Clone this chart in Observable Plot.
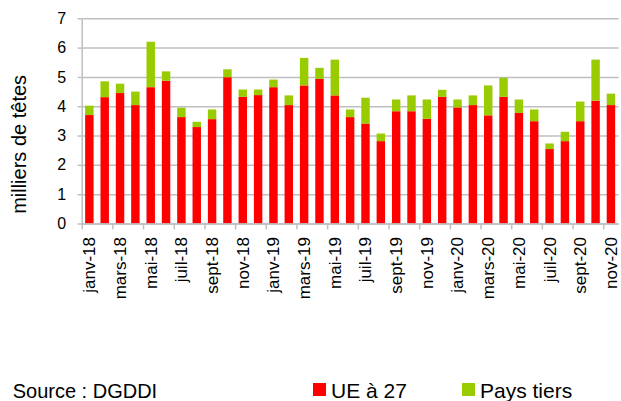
<!DOCTYPE html>
<html><head><meta charset="utf-8">
<script src="https://cdn.jsdelivr.net/npm/d3@7"></script>
<script src="https://cdn.jsdelivr.net/npm/@observablehq/plot@0.6"></script>
<style>
body{margin:0;background:#fff;font-family:"Liberation Sans",Arial,sans-serif}
#chart svg{display:block}
</style>
</head><body><div id="chart"></div>
<script>
const categories = ["janv-18","févr-18","mars-18","avr-18","mai-18","juin-18","juil-18","août-18","sept-18","oct-18","nov-18","déc-18",
  "janv-19","févr-19","mars-19","avr-19","mai-19","juin-19","juil-19","août-19","sept-19","oct-19","nov-19","déc-19",
  "janv-20","févr-20","mars-20","avr-20","mai-20","juin-20","juil-20","août-20","sept-20","oct-20","nov-20"];
const ueA27 = [3.70,4.31,4.45,4.04,4.65,4.87,3.63,3.29,3.56,4.99,4.32,4.38,
  4.65,4.04,4.71,4.93,4.37,3.63,3.41,2.81,3.83,3.83,3.57,4.32,
  3.96,4.04,3.69,4.32,3.77,3.49,2.54,2.81,3.49,4.19,4.04];
const paysTiers = [0.32,0.54,0.32,0.46,1.55,0.32,0.32,0.18,0.33,0.27,0.25,0.19,
  0.26,0.33,0.94,0.38,1.22,0.26,0.88,0.26,0.40,0.54,0.66,0.24,
  0.27,0.33,1.02,0.65,0.46,0.40,0.19,0.32,0.67,1.40,0.39];
const tickLabels = ["janv-18","mars-18","mai-18","juil-18","sept-18","nov-18","janv-19","mars-19","mai-19","juil-19","sept-19","nov-19","janv-20","mars-20","mai-20","juil-20","sept-20","nov-20"];
const yTicks = [0,1,2,3,4,5,6,7];
const seriesNames = ["UE à 27","Pays tiers"];
const seriesColors = ["#ff0000","#99cc00"];
const yLabel = "milliers de têtes";
const sourceText = "Source : DGDDI";

const rows = categories.flatMap((m,i)=>[
  {mois:m, serie:seriesNames[0], v:ueA27[i]},
  {mois:m, serie:seriesNames[1], v:paysTiers[i]}
]);

const W = 621, mL = 81.7, mR = 2.4;
const step = (W - mL - mR) / categories.length;
const grid = "#bfbfbf";

const plot = Plot.plot({
  width: W, height: 360,
  marginTop: 18.3, marginBottom: 136.5, marginLeft: mL, marginRight: mR,
  style: {fontFamily: "'Liberation Sans', Arial, sans-serif", background: "#fff", color: "#000"},
  x: {domain: categories, paddingInner: 0.45, paddingOuter: 0.225, round: false, label: null},
  y: {domain: [0, 7], label: null},
  color: {domain: seriesNames, range: seriesColors},
  marks: [
    Plot.gridY(yTicks, {stroke: grid, strokeOpacity: 1, strokeWidth: 1.5}),
    Plot.barY(rows, {x: "mois", y: "v", fill: "serie"}),
    Plot.ruleY([0], {stroke: grid, strokeWidth: 1.5}),
    Plot.ruleX([categories[0]], {x: d => d, y1: 0, y2: 7, dx: -step / 2, stroke: grid, strokeWidth: 1.5}),
    Plot.ruleX(tickLabels, {x: d => d, y1: 0, y2: -0.2, dx: -step / 2, stroke: grid, strokeWidth: 1.5}),
    Plot.axisY(yTicks, {tickSize: 4, tickPadding: 12, fontSize: 16, stroke: grid, strokeWidth: 1.5, fill: "#000"}),
    Plot.axisX(tickLabels, {tickSize: 0, tickPadding: 13, tickRotate: -90, fontSize: 17, fill: "#000"}),
    Plot.text([yLabel], {frameAnchor: "left", rotate: -90, dx: -62.9, dy: 23, fontSize: 20, textAnchor: "middle", lineAnchor: "middle", fill: "#000"})
  ]
});
document.getElementById("chart").appendChild(plot);

// legend / source below the chart
const ns = "http://www.w3.org/2000/svg";
const leg = d3.select("#chart").append("svg").attr("width", W).attr("height", 41)
  .style("font-family", "'Liberation Sans', Arial, sans-serif");
leg.append("text").attr("x", 12.7).attr("y", 38).attr("font-size", 20).text(sourceText);
const legX = [313, 462];
seriesNames.forEach((s, i) => {
  leg.append("rect").attr("x", legX[i]).attr("y", 23).attr("width", 13).attr("height", 13).attr("fill", seriesColors[i]);
  leg.append("text").attr("x", legX[i] + 18).attr("y", 38).attr("font-size", 21).text(s);
});
</script>
</body></html>
